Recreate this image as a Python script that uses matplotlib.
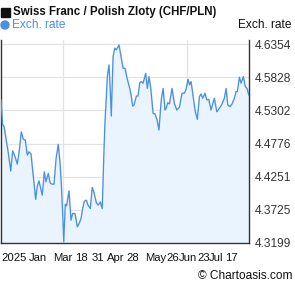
import matplotlib
matplotlib.use("Agg")
import matplotlib.pyplot as plt
from matplotlib.patches import Rectangle, Ellipse
import pandas as pd

plt.rcParams['font.family'] = ['Liberation Sans', 'DejaVu Sans']

# CHF/PLN daily rate, offsets in days from 2025-01-17
start = pd.Timestamp("2025-01-17")
day_offsets = [0, 1.2, 2.2, 4.2, 5.3, 7.1, 8.5, 10.2, 11.9, 13.4, 14.8, 16.3, 17.7,
               19.2, 20.4, 21.9, 23.1, 24.3, 25.3, 26.5, 27.7, 29.0, 30.1, 31.6,
               32.8, 34.5, 35.8, 37.0, 38.7, 40.2, 41.8, 43.1, 44.0, 45.0, 45.8,
               46.9, 47.9, 49.6, 51.1, 52.3, 54.0, 55.7, 57.2, 58.4, 59.6, 60.8,
               62.3, 63.5, 65.2, 66.6, 67.9, 69.6, 71.0, 72.5, 73.9, 75.0, 75.9,
               76.9, 77.6, 78.8, 79.8, 80.5, 81.8, 83.0, 84.2, 85.2, 86.1, 87.4,
               89.1, 90.5, 92.0, 94.0, 95.1, 96.1, 97.1, 98.8, 100.0, 101.3, 102.4,
               103.7, 105.6, 106.8, 108.0, 109.3, 111.0, 112.4, 113.9, 115.3, 117.0,
               118.3, 119.7, 120.5, 121.7, 122.9, 124.8, 126.5, 128.3, 130.2, 132.1,
               133.8, 135.1, 136.5, 137.5, 138.7, 139.9, 141.8, 143.3, 144.8, 146.0,
               147.2, 148.9, 150.2, 151.6, 153.3, 155.7, 157.5, 159.4, 161.3, 163.0,
               164.3, 165.5, 167.2, 168.6, 170.3, 171.6, 172.5, 174.0, 175.2, 176.9,
               178.3, 179.6, 180.8]
rates = [4.5467, 4.5070, 4.5050, 4.4779, 4.4630, 4.4340, 4.4662, 4.4570, 4.4450,
         4.4673, 4.4960, 4.4843, 4.4832, 4.4593, 4.4646, 4.4610, 4.4355, 4.4090,
         4.3890, 4.4100, 4.4185, 4.4064, 4.3958, 4.4328, 4.4169, 4.4303, 4.4153,
         4.4133, 4.4133, 4.4541, 4.4763, 4.4461, 4.4144, 4.3667, 4.3216, 4.3815,
         4.3788, 4.4026, 4.3560, 4.3667, 4.3667, 4.3454, 4.3517, 4.3587, 4.3746,
         4.3860, 4.3878, 4.3799, 4.3746, 4.4080, 4.3994, 4.3835, 4.3799, 4.3850,
         4.3746, 4.4570, 4.5122, 4.5520, 4.5838, 4.6023, 4.5599, 4.5213, 4.6155,
         4.6289, 4.6262, 4.6305, 4.6340, 4.6180, 4.5970, 4.5970, 4.5810, 4.5650,
         4.5520, 4.5370, 4.5388, 4.5530, 4.5530, 4.5742, 4.5758, 4.5733, 4.5890,
         4.5650, 4.5838, 4.5650, 4.5256, 4.5245, 4.5150, 4.4991, 4.5478, 4.5650,
         4.5308, 4.5335, 4.5424, 4.5404, 4.5650, 4.5415, 4.5308, 4.5351, 4.5574,
         4.5574, 4.5637, 4.5796, 4.5706, 4.5758, 4.5574, 4.5281, 4.5160, 4.5520,
         4.5563, 4.5494, 4.5574, 4.5467, 4.5478, 4.5308, 4.5494, 4.5281, 4.5335,
         4.5404, 4.5494, 4.5650, 4.5388, 4.5360, 4.5404, 4.5494, 4.5599, 4.5599,
         4.5828, 4.5733, 4.5838, 4.5679, 4.5650, 4.5547]

y_ticks = [4.3199, 4.3725, 4.4251, 4.4776, 4.5302, 4.5828, 4.6354]
grid_dates = ["2025-03-03", "2025-06-02"]
end = pd.Timestamp("2025-07-17")

x_labels = ["2025", "Jan", "Mar", "18", "31", "Apr", "28", "May", "26",
            "Jun", "23", "Jul", "17"]
x_label_px = [1, 29, 53, 75, 92, 107, 126, 145, 166, 179, 197, 209, 225]

dates = [start + pd.Timedelta(days=d) for d in day_offsets]

W, H = 295, 288
fig = plt.figure(figsize=(W / 100, H / 100), dpi=100)
ax = fig.add_axes([1 / W, 1 - 243 / H, 248 / W, 203 / H])

line_c = "#4a90e2"
ax.fill_between(dates, rates, y_ticks[0], color="#eaf4fe", zorder=1)
ax.plot(dates, rates, color=line_c, lw=0.95, zorder=3)

ax.set_xlim(start, end)
ax.set_ylim(y_ticks[0], y_ticks[-1] + 0.0064)
for v in y_ticks[1:]:
    ax.axhline(v, color="#e3e3e3", lw=0.9, zorder=0)
for d in grid_dates:
    ax.axvline(pd.Timestamp(d), color="#e3e3e3", lw=0.9, zorder=0)

ax.set_xticks([])
ax.yaxis.tick_right()
ax.set_yticks(y_ticks)
ax.set_yticklabels([f"{v:.4f}" for v in y_ticks], fontsize=8.6, color="#333333")
ax.tick_params(axis="y", length=0, pad=4)
ax.spines["top"].set_visible(False)
for s in ["left", "right", "bottom"]:
    ax.spines[s].set_color("#333333")
    ax.spines[s].set_linewidth(1.0)

for lab, px in zip(x_labels, x_label_px):
    fig.text(px / W, 1 - 258 / H, lab, fontsize=8.1, color="#111111",
             ha="left", va="center")

# legend / title markers
fig.patches.append(Rectangle((1 / W, 1 - 16.5 / H), 9 / W, 9 / H,
                             transform=fig.transFigure, color="#111111"))
fig.patches.append(Ellipse((5 / W, 1 - 25 / H), 8 / W, 8 / H,
                           transform=fig.transFigure, color=line_c))
fig.text(13 / W, 1 - 12 / H, "Swiss Franc / Polish Zloty (CHF/PLN)", fontsize=8.3,
         fontweight="bold", color="#111111", va="center")
fig.text(12 / W, 1 - 25 / H, "Exch. rate", fontsize=8.6, color=line_c, va="center")
fig.text(291 / W, 1 - 25 / H, "Exch. rate", fontsize=8.6, color="#111111",
         va="center", ha="right")
fig.text(293 / W, 1 - 276 / H, "© Chartoasis.com", fontsize=8.6, color="#111111",
         va="center", ha="right")

fig.savefig("out.png", dpi=100)
